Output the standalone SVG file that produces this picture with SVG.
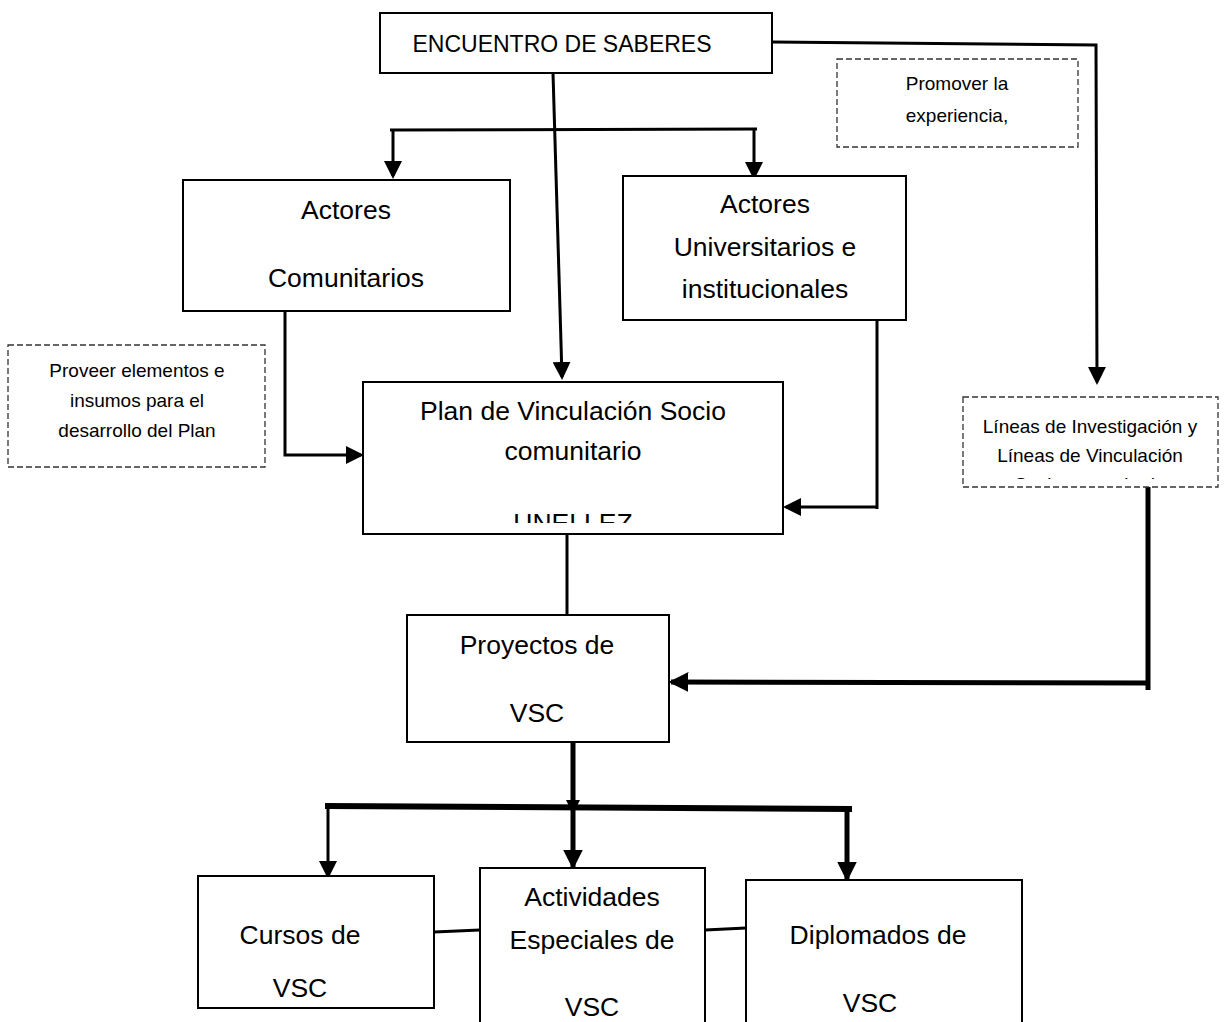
<svg xmlns="http://www.w3.org/2000/svg" width="1225" height="1022" viewBox="0 0 1225 1022">
<style>
.box{fill:#fff;stroke:#000;stroke-width:2}
.dash{fill:#fff;stroke:#333;stroke-width:1.3;stroke-dasharray:6 3}
.t{font-family:"Liberation Sans",Arial,sans-serif;fill:#000;text-anchor:middle}
.big{font-size:26.5px}
.sm{font-size:19px}
.c{fill:none;stroke:#000;stroke-width:3}
.k{fill:none;stroke:#000;stroke-width:5}
</style>
<defs>
<marker id="ah" markerWidth="6" markerHeight="6" refX="5" refY="3" orient="auto" markerUnits="strokeWidth"><path d="M0,0 L6,3 L0,6 Z" fill="#000"/></marker>
<marker id="ah2" markerWidth="4" markerHeight="4" refX="3.5" refY="2" orient="auto" markerUnits="strokeWidth"><path d="M0,0 L4,2 L0,4 Z" fill="#000"/></marker>
<clipPath id="cpPlan"><rect x="363" y="382" width="420" height="141"/></clipPath>
<clipPath id="cpProm"><rect x="837" y="59" width="241" height="79"/></clipPath>
<clipPath id="cpLin"><rect x="963" y="397" width="255" height="82"/></clipPath>
</defs>

<g id="connectors">
<line class="c" x1="553" y1="73" x2="562" y2="377" marker-end="url(#ah)"/>
<line class="c" x1="390" y1="130" x2="757" y2="129"/>
<line class="c" x1="393" y1="130" x2="393" y2="176" marker-end="url(#ah)"/>
<line class="c" x1="754" y1="129" x2="754" y2="177" marker-end="url(#ah)"/>
<polyline class="c" points="772,42 1096,45 1097,382" marker-end="url(#ah)"/>
<polyline class="c" points="285,311 285,455 361,455" marker-end="url(#ah)"/>
<polyline class="c" points="877,320 877,509"/>
<line class="c" x1="877" y1="507" x2="786" y2="507" marker-end="url(#ah)"/>
<line class="c" x1="567" y1="534" x2="567" y2="615"/>
<polyline class="k" points="1148,487 1148,690"/>
<line class="k" x1="1150" y1="683" x2="671" y2="682" marker-end="url(#ah2)"/>
<line class="k" x1="573" y1="742" x2="573" y2="808"/>
<line style="fill:none;stroke:#000;stroke-width:6" x1="325" y1="806" x2="852" y2="809"/>
<line class="c" x1="328" y1="806" x2="328" y2="876" marker-end="url(#ah)"/>
<line class="k" x1="573" y1="808" x2="573" y2="867" marker-end="url(#ah2)"/>
<line class="k" x1="847" y1="809" x2="847" y2="879" marker-end="url(#ah2)"/>
<path d="M566,800 L580,800 L573,814 Z" fill="#000"/>
<line class="c" x1="434" y1="932" x2="480" y2="930"/>
<line class="c" x1="705" y1="930" x2="746" y2="928"/>
</g>

<g id="n-encuentro">
<rect class="box" x="380" y="13" width="392" height="60"/>
<text class="t" x="562" y="52" style="font-size:23px">ENCUENTRO DE SABERES</text>
</g>

<g id="n-promover">
<rect class="dash" x="837" y="59" width="241" height="88"/>
<g clip-path="url(#cpProm)">
<text class="t sm" x="957" y="90">Promover la</text>
<text class="t sm" x="957" y="122">experiencia,</text>
</g>
</g>

<g id="n-actores-com">
<rect class="box" x="183" y="180" width="327" height="131"/>
<text class="t big" x="346" y="219">Actores</text>
<text class="t big" x="346" y="287">Comunitarios</text>
</g>

<g id="n-actores-uni">
<rect class="box" x="623" y="176" width="283" height="144"/>
<text class="t big" x="765" y="213">Actores</text>
<text class="t big" x="765" y="256">Universitarios e</text>
<text class="t big" x="765" y="298">institucionales</text>
</g>

<g id="n-proveer">
<rect class="dash" x="8" y="345" width="257" height="122"/>
<text class="t sm" x="137" y="377">Proveer elementos e</text>
<text class="t sm" x="137" y="407">insumos para el</text>
<text class="t sm" x="137" y="437">desarrollo del Plan</text>
</g>

<g id="n-plan">
<rect class="box" x="363" y="382" width="420" height="152"/>
<g clip-path="url(#cpPlan)">
<text class="t big" x="573" y="420">Plan de Vinculación Socio</text>
<text class="t big" x="573" y="460">comunitario</text>
<text class="t big" x="573" y="532">UNELLEZ</text>
</g>
</g>

<g id="n-lineas">
<rect class="dash" x="963" y="397" width="255" height="90"/>
<g clip-path="url(#cpLin)">
<text class="t sm" x="1090" y="433">Líneas de Investigación y</text>
<text class="t sm" x="1090" y="462">Líneas de Vinculación</text>
<text class="t sm" x="1090" y="491">Socio comunitario</text>
</g>
</g>

<g id="n-proyectos">
<rect class="box" x="407" y="615" width="262" height="127"/>
<text class="t big" x="537" y="654">Proyectos de</text>
<text class="t big" x="537" y="722">VSC</text>
</g>

<g id="n-cursos">
<rect class="box" x="198" y="876" width="236" height="132"/>
<text class="t big" x="300" y="944">Cursos  de</text>
<text class="t big" x="300" y="997">VSC</text>
</g>

<g id="n-actividades">
<rect class="box" x="480" y="868" width="225" height="170"/>
<text class="t big" x="592" y="906">Actividades</text>
<text class="t big" x="592" y="949">Especiales de</text>
<text class="t big" x="592" y="1016">VSC</text>
</g>

<g id="n-diplomados">
<rect class="box" x="746" y="880" width="276" height="160"/>
<text class="t big" x="878" y="944">Diplomados  de</text>
<text class="t big" x="870" y="1012">VSC</text>
</g>
</svg>
